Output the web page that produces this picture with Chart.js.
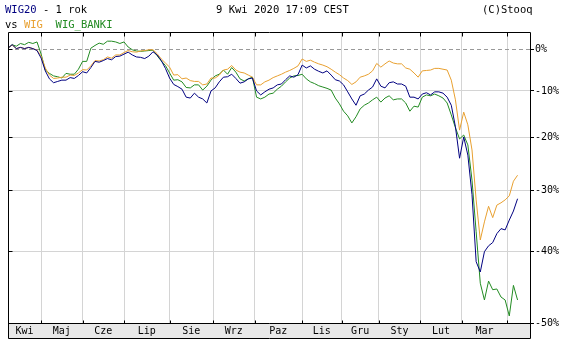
<!DOCTYPE html>
<html>
<head>
<meta charset="utf-8">
<script src="https://cdn.jsdelivr.net/npm/chart.js@4/dist/chart.umd.min.js"></script>
<style>
  html, body { margin: 0; padding: 0; background: #fff; }
  #wrap { position: relative; width: 572px; height: 341px; }
  .hdr { position: absolute; font: 10.5px "DejaVu Sans Mono", monospace; line-height: 12px; white-space: pre; color: #000; }
</style>
</head>
<body>
<div id="wrap">
  <canvas id="mainChart" width="572" height="341"></canvas>
  <div class="hdr" style="left:5px; top:3px"><span style="color:#000080">WIG20</span> - 1 rok</div>
  <div class="hdr" style="left:5px; top:18px">vs <span style="color:#e8a030">WIG</span>  <span style="color:#228b22">WIG_BANKI</span></div>
  <div class="hdr" style="left:216px; top:3px">9 Kwi 2020 17:09 CEST</div>
  <div class="hdr" style="left:482px; top:3px">(C)Stooq</div>
</div>
<script>
// Stooq style comparison chart: WIG20 vs WIG vs WIG_BANKI, 1 year, % change

const STEP = 2;          // trading days between samples
const DAYS = 252;        // axis length in trading days

// month boundaries (trading day index) and labels
const monthStarts = [0, 16, 36, 56, 78, 99, 119, 142, 161, 179, 199, 219, 241];
const monthLabels = ['Kwi', 'Maj', 'Cze', 'Lip', 'Sie', 'Wrz', 'Paz', 'Lis', 'Gru', 'Sty', 'Lut', 'Mar'];

// right axis ticks, % change
const yTicks = [0, -10, -20, -30, -40, -50];

// % change since start, one value every STEP trading days
const wig20 = [0.3, 1.2, 0.2, 0.5, 0.2, 0.5, 0.2, -0.3, -2.2, -5.3,
  -7.2, -8.1, -7.8, -7.5, -7.5, -6.9, -7.1, -6.4, -5.5, -5.8,
  -4.5, -3.0, -3.2, -2.8, -2.3, -2.6, -1.8, -1.7, -1.2, -0.7,
  -1.4, -1.9, -2.0, -2.3, -1.7, -0.6, -1.4, -2.8, -4.7, -7.0,
  -8.5, -9.0, -9.6, -11.4, -11.6, -10.5, -11.4, -11.8, -12.7, -10.0,
  -9.3, -7.9, -6.8, -6.7, -6.1, -7.1, -8.2, -7.9, -7.2, -7.0,
  -10.0, -10.9, -10.2, -9.6, -9.3, -8.6, -8.4, -7.4, -6.5, -6.8,
  -6.2, -3.9, -4.6, -4.1, -4.9, -5.4, -5.8, -5.3, -6.3, -7.4,
  -7.7, -8.6, -10.2, -11.8, -13.2, -11.1, -10.7, -9.8, -9.1, -7.2,
  -8.9, -9.3, -8.1, -7.9, -8.4, -8.4, -8.9, -11.4, -11.4, -11.8,
  -10.7, -10.4, -10.9, -10.2, -10.2, -10.5, -11.4, -13.2, -17.8, -24.1,
  -19.9, -23.5, -30.8, -41.6, -43.1, -40.1, -39.2, -38.7, -37.3, -36.5,
  -36.7, -35.1, -33.6, -31.5];

const wig = [0.3, 1.1, 0.2, 0.5, 0.2, 0.5, 0.2, -0.2, -1.7, -4.6,
  -6.3, -7.1, -7.0, -6.8, -6.8, -6.3, -6.4, -5.8, -5.0, -5.1,
  -4.1, -2.8, -2.9, -2.6, -1.9, -2.2, -1.4, -1.4, -0.8, -0.3,
  -0.6, -0.7, -0.4, -0.3, -0.1, -0.1, -1.1, -2.4, -3.4, -4.4,
  -6.3, -6.2, -7.2, -7.0, -7.6, -7.8, -7.8, -8.6, -8.4, -7.0,
  -7.0, -6.3, -5.1, -4.9, -4.0, -5.1, -5.6, -5.8, -6.3, -6.8,
  -8.6, -8.6, -7.9, -7.5, -6.9, -6.5, -6.1, -5.6, -5.2, -4.7,
  -4.1, -2.4, -3.0, -2.7, -3.2, -3.6, -3.9, -4.3, -4.9, -5.6,
  -6.2, -7.0, -7.6, -8.5, -7.9, -6.8, -6.5, -6.1, -5.3, -3.5,
  -4.4, -3.6, -2.9, -3.4, -3.6, -3.6, -4.6, -4.9, -5.8, -6.8,
  -5.3, -5.2, -5.1, -4.7, -4.7, -4.9, -5.1, -7.5, -12.0, -18.5,
  -14.7, -17.4, -22.5, -31.7, -38.3, -35.4, -32.8, -34.7, -32.6, -32.2,
  -31.7, -31.0, -28.4, -27.3];

const wigBanki = [0.3, 1.2, 0.8, 1.5, 1.2, 1.8, 1.5, 1.9, -1.2, -5.1,
  -5.9, -6.5, -6.7, -7.0, -5.9, -6.1, -6.1, -4.9, -3.0, -3.0,
  0.3, 1.0, 1.6, 1.3, 2.1, 2.1, 1.9, 1.5, 1.9, 0.6,
  -0.1, -0.4, -0.5, -0.4, -0.3, -0.2, -1.6, -2.9, -4.0, -5.8,
  -7.5, -7.4, -7.9, -9.2, -9.3, -8.6, -8.6, -9.8, -8.9, -7.5,
  -6.5, -6.1, -5.1, -6.1, -4.5, -5.6, -7.2, -7.7, -7.2, -6.8,
  -11.4, -11.8, -11.4, -10.7, -10.5, -9.6, -8.9, -7.9, -7.0, -6.5,
  -6.4, -6.1, -7.2, -7.9, -8.3, -8.8, -9.1, -9.4, -9.8, -11.6,
  -12.9, -14.5, -15.5, -17.0, -15.7, -14.0, -13.2, -12.7, -12.0, -11.4,
  -12.5, -11.6, -11.1, -12.0, -11.8, -11.8, -12.7, -14.5, -13.4, -13.6,
  -11.4, -10.9, -11.1, -10.7, -11.1, -11.6, -12.7, -15.3, -18.0, -20.3,
  -19.5, -21.5, -28.2, -37.0, -44.7, -47.0, -44.4, -45.6, -45.5, -46.6,
  -47.0, -49.1, -45.0, -47.0];

const BAND = 15;
const MONO = '"DejaVu Sans Mono", monospace';

// log scale works on the ratio, labels stay in %
function toPoints(arr) {
    return arr.map((p, i) => ({ x: i * STEP, y: 1 + p / 100 }));
}

const boundaries = monthStarts.slice(1);
const mids = monthLabels.map((m, i) => (monthStarts[i] + monthStarts[i + 1]) / 2);

const frame = {
    id: 'frame',
    beforeDraw(chart) {
        const { ctx, chartArea: a } = chart;
        ctx.save();
        ctx.fillStyle = '#e8e8e8';
        ctx.fillRect(a.left, a.bottom, a.right - a.left, BAND);
        ctx.restore();
    },
    beforeDatasetsDraw(chart) {
        const { ctx, chartArea: a } = chart;
        const y0 = Math.round(chart.scales.y.getPixelForValue(1)) + 0.5;
        ctx.save();
        ctx.strokeStyle = '#999';
        ctx.lineWidth = 1;
        ctx.setLineDash([4, 3]);
        ctx.beginPath();
        ctx.moveTo(a.left, y0);
        ctx.lineTo(a.right, y0);
        ctx.stroke();
        ctx.restore();
    },
    afterDraw(chart) {
        const { ctx, chartArea: a } = chart;
        const x = chart.scales.x, y = chart.scales.y;
        const L = Math.round(a.left) + 0.5, R = Math.round(a.right) + 0.5;
        const T = Math.round(a.top) + 0.5, B = Math.round(a.bottom) + 0.5;
        ctx.save();
        ctx.strokeStyle = '#000';
        ctx.lineWidth = 1;
        ctx.beginPath();
        ctx.moveTo(L, T); ctx.lineTo(R, T);
        ctx.moveTo(L, T); ctx.lineTo(L, B + BAND);
        ctx.moveTo(R, T); ctx.lineTo(R, B + BAND);
        ctx.moveTo(L, B); ctx.lineTo(R, B);
        ctx.moveTo(L, B + BAND); ctx.lineTo(R, B + BAND);
        boundaries.forEach(d => {
            const px = Math.round(x.getPixelForValue(d)) + 0.5;
            ctx.moveTo(px, T); ctx.lineTo(px, T + 4);
            ctx.moveTo(px, B); ctx.lineTo(px, B - 3);
        });
        yTicks.forEach(v => {
            const py = Math.round(y.getPixelForValue(1 + v / 100)) + 0.5;
            ctx.moveTo(L, py); ctx.lineTo(L + 4, py);
        });
        ctx.stroke();
        ctx.restore();
    }
};

const ctx = document.getElementById('mainChart');
new Chart(ctx, {
    type: 'line',
    data: {
        datasets: [
            { label: 'WIG20', data: toPoints(wig20), borderColor: '#000080' },
            { label: 'WIG', data: toPoints(wig), borderColor: '#e8a030' },
            { label: 'WIG_BANKI', data: toPoints(wigBanki), borderColor: '#228b22' }
        ]
    },
    options: {
        responsive: false,
        animation: false,
        parsing: false,
        layout: { padding: { left: 8, top: 32, right: 0, bottom: 3 }, autoPadding: false },
        elements: {
            line: { borderWidth: 1, tension: 0 },
            point: { radius: 0 }
        },
        plugins: {
            legend: { display: false },
            tooltip: { enabled: false }
        },
        scales: {
            x: {
                type: 'linear',
                position: 'bottom',
                min: 0,
                max: DAYS,
                afterBuildTicks: s => { s.ticks = boundaries.map(v => ({ value: v })); },
                afterFit: s => { s.height = 0; },
                grid: { color: '#d4d4d4', drawTicks: false },
                border: { display: false },
                ticks: { display: false }
            },
            xm: {
                type: 'linear',
                position: 'bottom',
                min: 0,
                max: DAYS,
                afterBuildTicks: s => { s.ticks = mids.map(v => ({ value: v })); },
                afterFit: s => { s.height = BAND; },
                grid: { display: false, drawTicks: false, tickLength: 0 },
                border: { display: false },
                ticks: {
                    autoSkip: false,
                    maxRotation: 0,
                    padding: 2,
                    color: '#000',
                    font: { family: MONO, size: 10 },
                    callback: (v, i) => monthLabels[i]
                }
            },
            y: {
                type: 'logarithmic',
                position: 'right',
                min: 0.5,
                max: 1.045,
                afterBuildTicks: s => { s.ticks = yTicks.map(v => ({ value: 1 + v / 100 })); },
                afterFit: s => { s.width = 42; },
                grid: {
                    color: c => (c.tick && Math.abs(c.tick.value - 1) < 1e-6) ? 'rgba(0,0,0,0)' : '#d4d4d4',
                    tickColor: '#000',
                    tickLength: 4
                },
                border: { display: false },
                ticks: {
                    padding: 1,
                    color: '#000',
                    font: { family: MONO, size: 10 },
                    callback: v => Math.round((v - 1) * 100) + '%'
                }
            }
        }
    },
    plugins: [frame]
});
</script>
</body>
</html>
